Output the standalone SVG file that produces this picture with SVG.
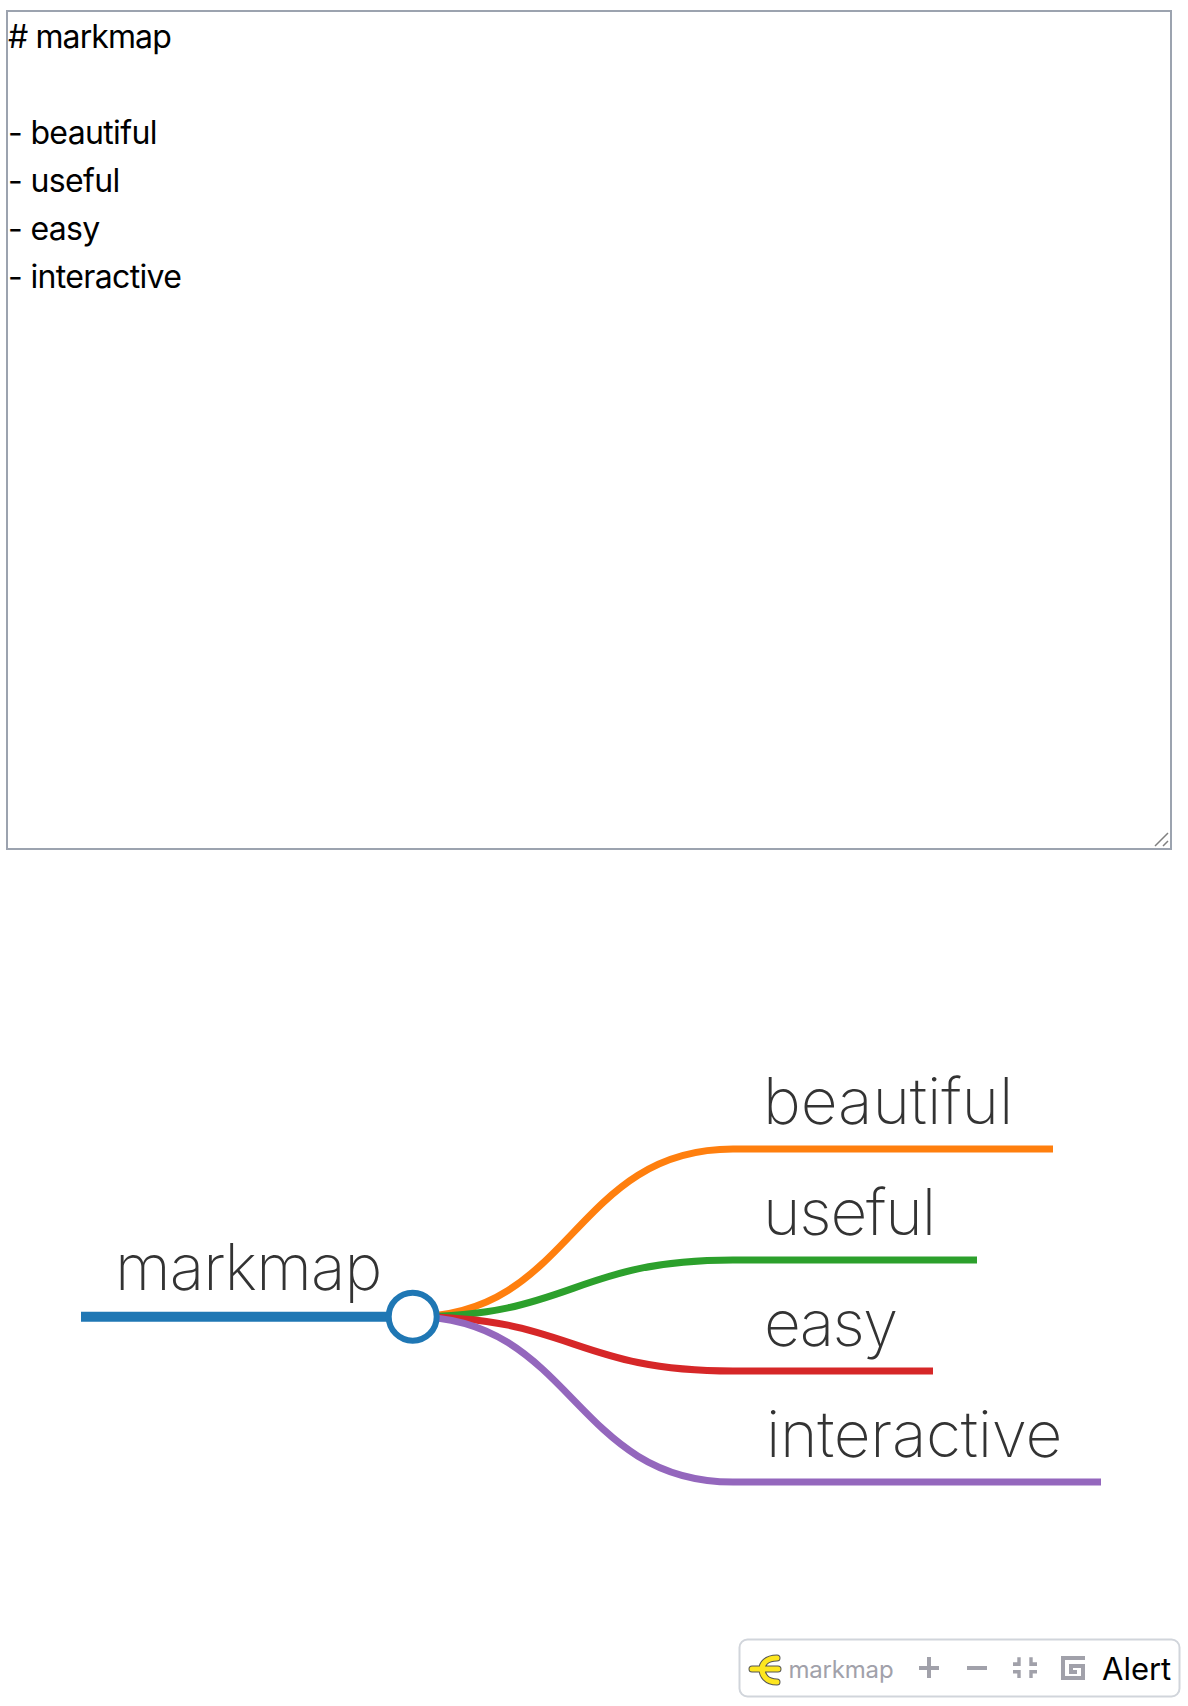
<svg xmlns="http://www.w3.org/2000/svg" width="1188" height="1706" viewBox="0 0 1188 1706">
<style>
.ta{font-family:Inter,"Liberation Sans",Arial,sans-serif;font-size:32px;fill:#000;letter-spacing:-0.65px}
.mm{font-family:Inter,"Liberation Sans",sans-serif;font-weight:200;font-size:64px;fill:#333}
.lnk{fill:none;stroke-width:7}
.tb{fill:#a1a1aa}
</style>
<rect width="1188" height="1706" fill="#fff"/>
<g id="editor">
<rect x="7" y="11" width="1164" height="838" fill="#fff" stroke="#9ca3af" stroke-width="2"/>
<path d="M1155 846L1168 833M1163 846L1168 841" stroke="#808080" stroke-width="1.5" fill="none"/>
<text class="ta" x="8" y="48" style="letter-spacing:-0.9px"># markmap</text>
<text class="ta" x="8" y="144">- beautiful</text>
<text class="ta" x="8" y="192">- useful</text>
<text class="ta" x="8" y="240">- easy</text>
<text class="ta" x="8" y="288">- interactive</text>
</g>
<g id="connectors">
<path class="lnk" stroke="#ff7f0e" d="M413 1316.7C573 1316.7 573 1149 733 1149H1053"/>
<path class="lnk" stroke="#2ca02c" d="M413 1316.7C573 1316.7 573 1260 733 1260H977"/>
<path class="lnk" stroke="#d62728" d="M413 1316.7C573 1316.7 573 1371 733 1371H933"/>
<path class="lnk" stroke="#9467bd" d="M413 1316.7C573 1316.7 573 1482 733 1482H1101"/>
</g>
<g id="node-root">
<path d="M81 1316.7H390" stroke="#1f77b4" stroke-width="10" fill="none"/>
<circle cx="412.7" cy="1316.7" r="24" fill="#fff" stroke="#1f77b4" stroke-width="6"/>
<text class="mm" x="115" y="1290" style="letter-spacing:-0.9px">markmap</text>
</g>
<g id="node-beautiful"><text class="mm" x="763" y="1124" style="letter-spacing:-0.1px">beautiful</text></g>
<g id="node-useful"><text class="mm" x="763" y="1235" style="letter-spacing:-1.2px">useful</text></g>
<g id="node-easy"><text class="mm" x="764" y="1346" style="letter-spacing:-1.7px">easy</text></g>
<g id="node-interactive"><text class="mm" x="766" y="1457" style="letter-spacing:-0.3px">interactive</text></g>
<g id="toolbar">
<rect x="739.5" y="1639.5" width="440" height="57" rx="8" fill="#fff" stroke="#d1d5db" stroke-width="2"/>
<path d="M752 1669H778M777 1658C766 1658 762 1664 762 1669C762 1675 766 1682 777 1682" fill="none" stroke="#555" stroke-width="7" stroke-linecap="round"/>
<path d="M752 1669H778M777 1658C766 1658 762 1664 762 1669C762 1675 766 1682 777 1682" fill="none" stroke="#fde61f" stroke-width="5" stroke-linecap="round"/>
<text x="788.5" y="1678" font-family="Inter,sans-serif" font-size="24" letter-spacing="-0.2" fill="#a1a1aa">markmap</text>
<path class="tb" d="M927 1657h4v9h8v4h-8v8h-4v-8h-8v-4h8z"/>
<rect class="tb" x="967" y="1666" width="20" height="4"/>
<path class="tb" d="M1017.3 1657.3h3.4v8.7h-7.7v-3.7h4.3zM1029.3 1657.3h3.4v5h4.3v3.7h-7.7zM1013 1670h7.7v8h-3.4v-4.5h-4.3zM1029.3 1670h7.7v3.5h-4.3v4.5h-3.4z"/>
<path d="M1085 1658H1063V1678H1083V1666H1071V1672H1077" fill="none" stroke="#a1a1aa" stroke-width="4"/>
<text x="1102" y="1680" font-family="Inter,sans-serif" font-size="31" fill="#000">Alert</text>
</g>
</svg>
